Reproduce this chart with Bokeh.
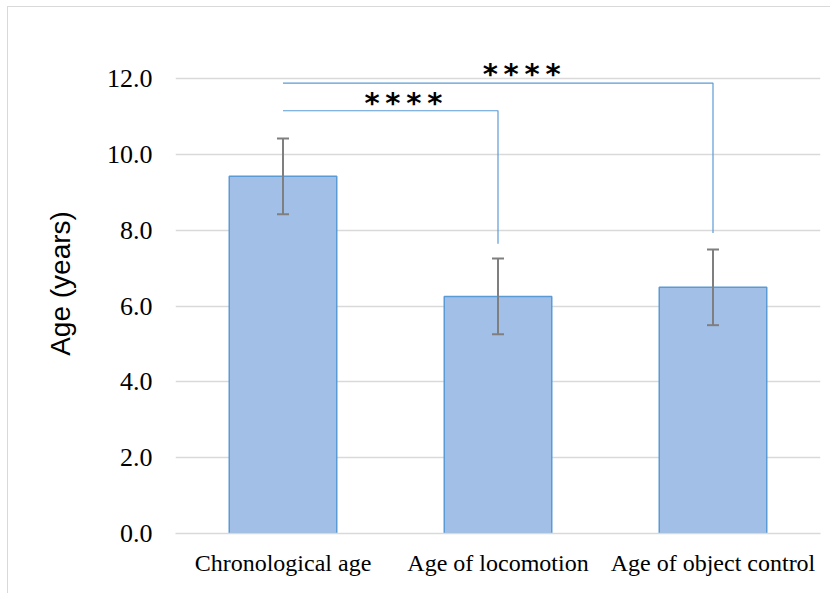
from bokeh.plotting import figure
from bokeh.models import ColumnDataSource, Whisker, TeeHead, FixedTicker, Range1d
from bokeh.core.properties import value
from bokeh.embed import file_html
from bokeh.resources import INLINE

# ---- data ----
categories = ["Chronological age", "Age of locomotion", "Age of object control"]
means = [9.43, 6.26, 6.50]
sds = [1.00, 1.00, 1.00]
y_ticks = [0, 2, 4, 6, 8, 10, 12]

# significance brackets: from category index a to b at height h, drop down to bottom
bracket_from = [0, 0]
bracket_to = [1, 2]
bracket_height = [11.16, 11.89]
bracket_drop = [7.65, 7.93]
star_labels = ["****", "****"]
star_x = [0.56, 1.11]
star_y = [11.36, 12.14]

xs = list(range(len(categories)))

p = figure(width=823, height=587, output_backend="svg", toolbar_location=None,
           x_range=Range1d(-0.5, 2.5), y_range=Range1d(0, 13.2),
           min_border_left=167, min_border_right=11, min_border_top=26, min_border_bottom=61)
p.styles = {"border-left": "1px solid #d9d9d9", "border-top": "1px solid #d9d9d9",
            "margin-left": "7px", "margin-top": "6px"}
p.outline_line_color = None
p.background_fill_color = "white"
p.border_fill_color = "white"

src = ColumnDataSource(dict(x=xs, top=means,
                            upper=[m + s for m, s in zip(means, sds)],
                            lower=[m - s for m, s in zip(means, sds)]))

p.vbar(x="x", top="top", bottom=0, width=0.5, source=src,
       fill_color="#a2c0e7", line_color="#5b9bd5", line_width=1.5)

w = Whisker(base="x", upper="upper", lower="lower", source=src, level="overlay",
            line_color="#7f7f7f", line_width=2,
            upper_head=TeeHead(size=12, line_color="#7f7f7f", line_width=2),
            lower_head=TeeHead(size=12, line_color="#7f7f7f", line_width=2))
p.add_layout(w)

for a, b, h, d in zip(bracket_from, bracket_to, bracket_height, bracket_drop):
    p.line(x=[a, b, b], y=[h, h, d], line_color="#5b9bd5", line_width=1.2)

p.text(x=star_x, y=star_y, text=["*\u2009*\u2009*\u2009*" for s in star_labels],
       text_font=value("DejaVu Sans"), text_font_style="bold", text_font_size="29px",
       text_align="center", text_baseline="middle", text_color="black")

# axes
p.yaxis.ticker = FixedTicker(ticks=y_ticks)
p.yaxis.major_label_overrides = {t: f"{t:.1f}" for t in y_ticks}
p.yaxis.axis_line_color = None
p.yaxis.major_tick_line_color = None
p.yaxis.minor_tick_line_color = None
p.yaxis.major_label_standoff = 17
p.yaxis.major_label_text_font = "Liberation Serif"
p.yaxis.major_label_text_font_size = "26px"
p.yaxis.major_label_text_color = "black"
p.yaxis.axis_label = "Age (years)"
p.yaxis.axis_label_text_font = "Liberation Sans"
p.yaxis.axis_label_text_font_style = "normal"
p.yaxis.axis_label_text_font_size = "28px"
p.yaxis.axis_label_text_color = "black"
p.yaxis.axis_label_standoff = 28

p.xaxis.ticker = FixedTicker(ticks=xs)
p.xaxis.major_label_overrides = {i: c for i, c in enumerate(categories)}
p.xaxis.axis_line_color = "#d9d9d9"
p.xaxis.axis_line_width = 1.5
p.xaxis.major_tick_line_color = None
p.xaxis.minor_tick_line_color = None
p.xaxis.major_label_standoff = 10
p.xaxis.major_label_text_font = "Liberation Serif"
p.xaxis.major_label_text_font_size = "24px"
p.xaxis.major_label_text_color = "black"

p.xgrid.grid_line_color = None
p.ygrid.grid_line_color = "#d9d9d9"
p.ygrid.grid_line_width = 1.5

open("out.html", "w").write(file_html(p, INLINE))
